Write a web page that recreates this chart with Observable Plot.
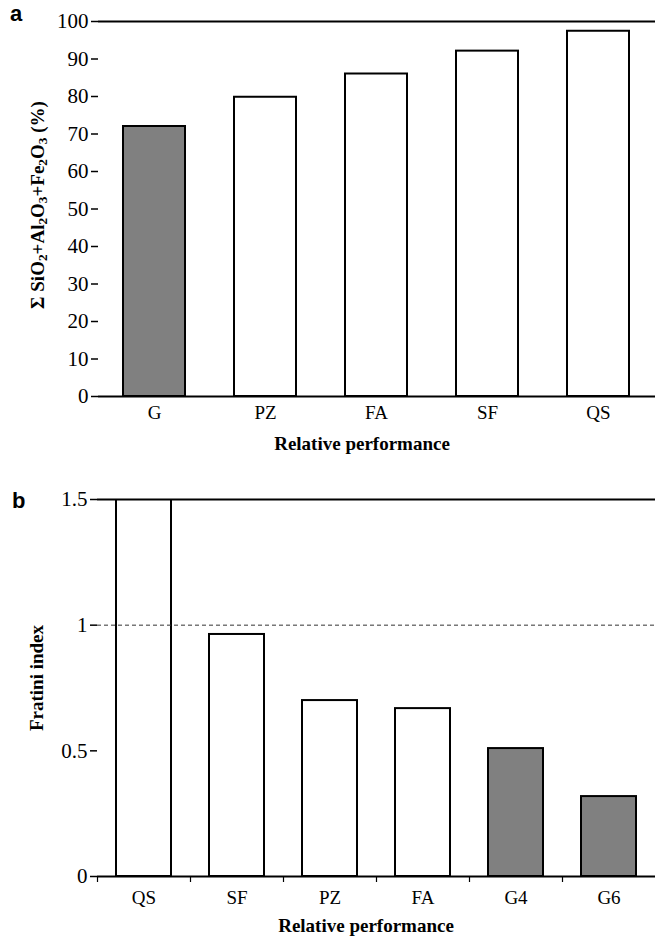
<!DOCTYPE html>
<html>
<head>
<meta charset="utf-8">
<script src="https://cdn.jsdelivr.net/npm/d3@7"></script>
<script src="https://cdn.jsdelivr.net/npm/@observablehq/plot@0.6"></script>
<style>
  body { margin: 0; background: #fff; }
  #wrap { position: relative; width: 656px; height: 936px; background: #fff; }
  #wrap > div.panel { position: absolute; left: 0; }
  #wrap svg, #wrap svg text { font-family: 'Liberation Serif', 'Times New Roman', serif !important; }
  #wrap svg g[aria-label="x-axis tick label"], #wrap svg g[aria-label="x-axis tick label"] text { font-size: 19px !important; fill: #000 !important; }
  #wrap svg g[aria-label="y-axis tick label"], #wrap svg g[aria-label="y-axis tick label"] text { font-size: 21px !important; fill: #000 !important; }
  .tag { position: absolute; font-family: "Liberation Sans", Arial, sans-serif; font-weight: bold; font-size: 22px; color: #000; }
  .vline { position: absolute; background: #999; width: 1px; }
</style>
</head>
<body>
<div id="wrap">
  <div class="vline" style="left:12px; top:0; height:463px;"></div>
  <div class="vline" style="left:655px; top:0; height:936px; background:#ccc;"></div>
  <div class="panel" id="pa" style="top:0"></div>
  <div class="panel" id="pb" style="top:460px"></div>
  <div class="tag" style="left:10px; top:1px;">a</div>
  <div class="tag" style="left:12px; top:488px;">b</div>
</div>
<script>
// Panel a data
const catsA = ["G", "PZ", "FA", "SF", "QS"];
const valsA = [72, 79.8, 86, 92.1, 97.4];
const ticksA = [0, 10, 20, 30, 40, 50, 60, 70, 80, 90, 100];

// Panel b data
const catsB = ["QS", "SF", "PZ", "FA", "G4", "G6"];
const valsB = [2.5, 0.963, 0.70, 0.668, 0.509, 0.318];
const ticksB = [0, 0.5, 1, 1.5];
const refLineB = [1];

const dataA = catsA.map((c, i) => ({cat: c, v: valsA[i]}));
const dataB = catsB.map((c, i) => ({cat: c, v: valsB[i]}));
const barFill = d => d.cat.startsWith("G") ? "#808080" : "#ffffff";

const font = {fontFamily: "'Liberation Serif', 'Times New Roman', serif", fontSize: "19px", color: "#000", background: "#fff", overflow: "visible"};

function addLabel(svg, parts, x, y, size) {
  const ns = "http://www.w3.org/2000/svg";
  const t = document.createElementNS(ns, "text");
  t.setAttribute("transform", `translate(${x},${y}) rotate(-90)`);
  t.setAttribute("text-anchor", "middle");
  t.setAttribute("font-weight", "bold");
  t.setAttribute("font-size", size);
  t.setAttribute("fill", "#000");
  for (const p of parts) {
    const s = document.createElementNS(ns, "tspan");
    s.textContent = p.t;
    if (p.sub) { s.setAttribute("baseline-shift", "-25%"); s.setAttribute("font-size", size * 0.7); }
    t.appendChild(s);
  }
  svg.appendChild(t);
}
function addTitle(svg, text, x, y, size) {
  const ns = "http://www.w3.org/2000/svg";
  const t = document.createElementNS(ns, "text");
  t.setAttribute("x", x); t.setAttribute("y", y);
  t.setAttribute("text-anchor", "middle");
  t.setAttribute("font-weight", "bold");
  t.setAttribute("font-size", size);
  t.setAttribute("fill", "#000");
  t.textContent = text;
  svg.appendChild(t);
}

// Panel a
const plotA = Plot.plot({
  width: 656, height: 460,
  marginLeft: 98, marginRight: 1, marginTop: 21, marginBottom: 64,
  style: font,
  x: {domain: catsA, paddingInner: 0.44, paddingOuter: 0.22, label: null},
  y: {domain: [0, 100], label: null},
  marks: [
    Plot.barY(dataA, {x: "cat", y: "v", fill: barFill, stroke: "#000", strokeWidth: 2}),
    Plot.ruleY([0, 100], {stroke: "#000", strokeWidth: 2}),
    Plot.axisY({ticks: ticksA, tickSize: 7, tickPadding: 3, line: true, stroke: "#000", strokeWidth: 1.5, label: null}),
    Plot.axisX({tickSize: 0, tickPadding: 9, label: null})
  ]
});
document.getElementById("pa").appendChild(plotA);
addLabel(plotA, [
  {t: "Σ SiO"}, {t: "2", sub: true}, {t: "+Al"}, {t: "2", sub: true}, {t: "O"}, {t: "3", sub: true},
  {t: "+Fe"}, {t: "2", sub: true}, {t: "O"}, {t: "3", sub: true}, {t: " (%)"}
], 44, 205, 19);
addTitle(plotA, "Relative performance", 362, 450, 19);

// Panel b
const stepB = (656 - 97 - 1) / catsB.length;
const plotB = Plot.plot({
  width: 656, height: 476,
  marginLeft: 97, marginRight: 1, marginTop: 39, marginBottom: 60,
  style: font,
  x: {domain: catsB, paddingInner: 0.41, paddingOuter: 0.205, label: null},
  y: {domain: [0, 1.5], label: null},
  marks: [
    Plot.barY(dataB, {x: "cat", y: "v", fill: barFill, stroke: "#000", strokeWidth: 2, clip: true}),
    Plot.ruleY(refLineB, {stroke: "#333", strokeWidth: 1, strokeDasharray: "4,3"}),
    Plot.ruleY([0, 1.5], {stroke: "#000", strokeWidth: 2}),
    Plot.axisY({ticks: ticksB, tickFormat: d => String(d), tickSize: 7, tickPadding: 3, line: true, stroke: "#000", strokeWidth: 1.5, label: null}),
    Plot.axisX({tickSize: 0, tickPadding: 14, label: null}),
    Plot.axisX({text: null, tickSize: 6, dx: -stepB / 2, label: null, stroke: "#000", strokeWidth: 1.2})
  ]
});
document.getElementById("pb").appendChild(plotB);
addLabel(plotB, [{t: "Fratini index"}], 43, 218, 19);
addTitle(plotB, "Relative performance", 366, 472, 19);
</script>
</body>
</html>
